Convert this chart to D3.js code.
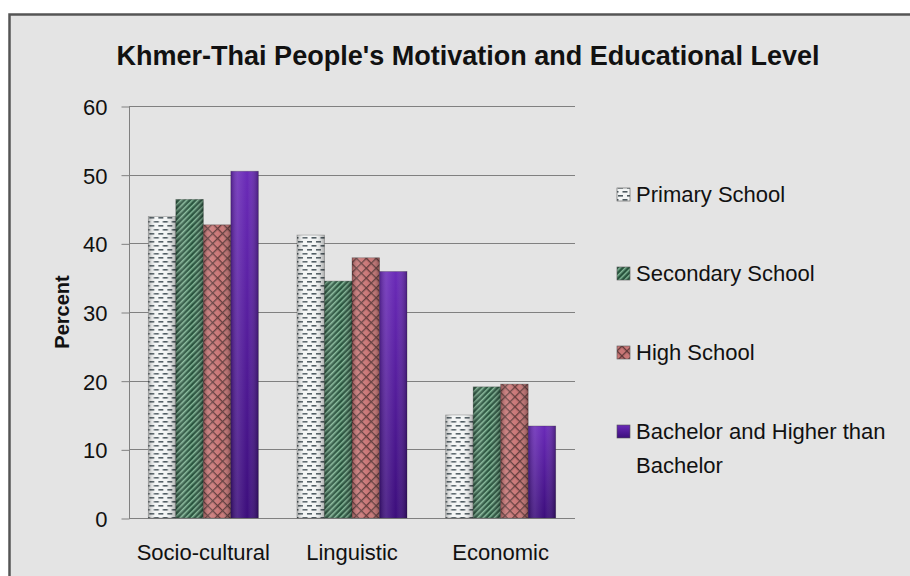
<!DOCTYPE html>
<html>
<head>
<meta charset="utf-8">
<script src="https://cdn.jsdelivr.net/npm/d3@7"></script>
<style>
  body { margin: 0; background: #fff; }
  text { font-family: "Liberation Sans", Arial, sans-serif; fill: #111; }
</style>
</head>
<body>
<div id="chart"></div>
<script>
// data
var categories = ["Socio-cultural", "Linguistic", "Economic"]
var seriesNames = ["Primary School", "Secondary School", "High School", "Bachelor and Higher than Bachelor"]
var primary = [43.9, 41.2, 15.0]
var secondary = [46.4, 34.5, 19.1]
var high = [42.7, 37.9, 19.5]
var bachelor = [50.5, 35.9, 13.4]
var yTicks = [0, 10, 20, 30, 40, 50, 60]

var seriesValues = [primary, secondary, high, bachelor]
var fills = ["url(#patPrimary)", "url(#patSecondary)", "url(#patHigh)", "url(#gradBachelor)"]

var W = 910, H = 576
var svg = d3.select("#chart").append("svg")
    .attr("width", W)
    .attr("height", H)

var defs = svg.append("defs")

// primary: white with staggered dark dashes
var p1 = defs.append("pattern").attr("id", "patPrimary")
    .attr("patternUnits", "userSpaceOnUse").attr("width", 9).attr("height", 8)
p1.append("rect").attr("width", 9).attr("height", 8).attr("fill", "#f3f5f5")
p1.append("rect").attr("x", 1).attr("y", 1).attr("width", 5).attr("height", 1.6).attr("fill", "#4d5a60")
p1.append("rect").attr("x", 5.5).attr("y", 5).attr("width", 5).attr("height", 1.6).attr("fill", "#4d5a60")
p1.append("rect").attr("x", -3.5).attr("y", 5).attr("width", 5).attr("height", 1.6).attr("fill", "#4d5a60")

// secondary: dark green with light diagonal stripes
var p2 = defs.append("pattern").attr("id", "patSecondary")
    .attr("patternUnits", "userSpaceOnUse").attr("width", 4).attr("height", 4)
    .attr("patternTransform", "rotate(45)")
p2.append("rect").attr("width", 4).attr("height", 4).attr("fill", "#28533d")
p2.append("rect").attr("width", 1.5).attr("height", 4).attr("fill", "#84b898")

// high school: pink with dark lattice
var p3 = defs.append("pattern").attr("id", "patHigh")
    .attr("patternUnits", "userSpaceOnUse").attr("width", 7).attr("height", 7)
    .attr("patternTransform", "rotate(45)")
p3.append("rect").attr("width", 7).attr("height", 7).attr("fill", "#c97676")
p3.append("rect").attr("width", 1.3).attr("height", 7).attr("fill", "#5e3838")
p3.append("rect").attr("width", 7).attr("height", 1.3).attr("fill", "#5e3838")

// bachelor: purple gradient
var g4 = defs.append("linearGradient").attr("id", "gradBachelor")
    .attr("x1", 0).attr("y1", 0).attr("x2", 0).attr("y2", 1)
g4.append("stop").attr("offset", "0%").attr("stop-color", "#6a2ab8")
g4.append("stop").attr("offset", "100%").attr("stop-color", "#3c0e7c")

// horizontal shading to give the bars some roundness
var sh = defs.append("linearGradient").attr("id", "shade")
    .attr("x1", 0).attr("y1", 0).attr("x2", 1).attr("y2", 0)
sh.append("stop").attr("offset", "0%").attr("stop-color", "#000").attr("stop-opacity", 0.25)
sh.append("stop").attr("offset", "25%").attr("stop-color", "#fff").attr("stop-opacity", 0.12)
sh.append("stop").attr("offset", "60%").attr("stop-color", "#fff").attr("stop-opacity", 0.0)
sh.append("stop").attr("offset", "100%").attr("stop-color", "#000").attr("stop-opacity", 0.3)

// frame
svg.append("rect")
    .attr("x", 9.5).attr("y", 14.5)
    .attr("width", 920).attr("height", 600)
    .attr("fill", "#e4e4e4")
    .attr("stroke", "#555").attr("stroke-width", 2.5)

var x0 = d3.scaleBand().domain(categories).range([129, 575])
    .paddingInner(0.26).paddingOuter(0.13)
var x1 = d3.scaleBand().domain(d3.range(seriesNames.length)).range([0, x0.bandwidth()])
var y = d3.scaleLinear().domain([0, 60]).range([518, 106])

// grid
svg.append("g").selectAll("line").data(yTicks).join("line")
    .attr("x1", 129).attr("x2", 575)
    .attr("y1", d => Math.round(y(d)) + 0.5).attr("y2", d => Math.round(y(d)) + 0.5)
    .attr("stroke", "#808080").attr("stroke-width", 1)

// y axis
var yAxis = svg.append("g").attr("transform", "translate(129.5,0.5)")
    .call(d3.axisLeft(y).tickValues(yTicks).tickSize(8).tickPadding(14))
yAxis.select(".domain").attr("stroke", "#808080").attr("d", "M0," + y(60) + "V" + y(0))
yAxis.selectAll(".tick line").attr("stroke", "#808080")
yAxis.selectAll(".tick text")
    .style("font-family", "'Liberation Sans', Arial, sans-serif")
    .style("font-size", "22px").attr("fill", "#111")
    .attr("dy", "0.36em")

// bars
var groups = svg.append("g").selectAll("g").data(categories).join("g")
    .attr("transform", d => "translate(" + x0(d) + ",0)")

seriesValues.forEach(function(vals, si) {
    groups.append("rect")
        .attr("x", x1(si))
        .attr("width", x1.bandwidth())
        .attr("y", (d, ci) => y(vals[ci]))
        .attr("height", (d, ci) => y(0) - y(vals[ci]))
        .attr("fill", fills[si])
        .attr("stroke", "#333").attr("stroke-opacity", 0.35).attr("stroke-width", 0.8)
    groups.append("rect")
        .attr("x", x1(si))
        .attr("width", x1.bandwidth())
        .attr("y", (d, ci) => y(vals[ci]))
        .attr("height", (d, ci) => y(0) - y(vals[ci]))
        .attr("fill", "url(#shade)")
})

// x labels
svg.append("g").selectAll("text").data(categories).join("text")
    .attr("x", d => x0(d) + x0.bandwidth() / 2)
    .attr("y", 560)
    .attr("text-anchor", "middle")
    .style("font-size", "22px")
    .text(d => d)

// title
svg.append("text")
    .attr("x", 468).attr("y", 65)
    .attr("text-anchor", "middle")
    .attr("textLength", 703).attr("lengthAdjust", "spacingAndGlyphs")
    .style("font-size", "27px").style("font-weight", "bold")
    .text("Khmer-Thai People's Motivation and Educational Level")

// y title
svg.append("text")
    .attr("transform", "translate(69,312) rotate(-90)")
    .attr("text-anchor", "middle")
    .style("font-size", "20px").style("font-weight", "bold")
    .text("Percent")

// legend
var legendY = [202, 281, 360, 439]
var leg = svg.append("g").selectAll("g").data(seriesNames).join("g")
    .attr("transform", (d, i) => "translate(617," + legendY[i] + ")")
leg.append("rect").attr("x", 0).attr("y", -14).attr("width", 13).attr("height", 13)
    .attr("fill", (d, i) => fills[i]).attr("stroke", "#555").attr("stroke-width", 0.6)
leg.append("text").attr("x", 19).attr("y", 0)
    .style("font-size", "22px")
    .each(function(d) {
        var t = d3.select(this)
        if (d == "Bachelor and Higher than Bachelor") {
            t.append("tspan").attr("x", 19).attr("dy", 0).text("Bachelor and Higher than")
            t.append("tspan").attr("x", 19).attr("dy", 34).text("Bachelor")
        } else {
            t.text(d)
        }
    })
</script>
</body>
</html>
